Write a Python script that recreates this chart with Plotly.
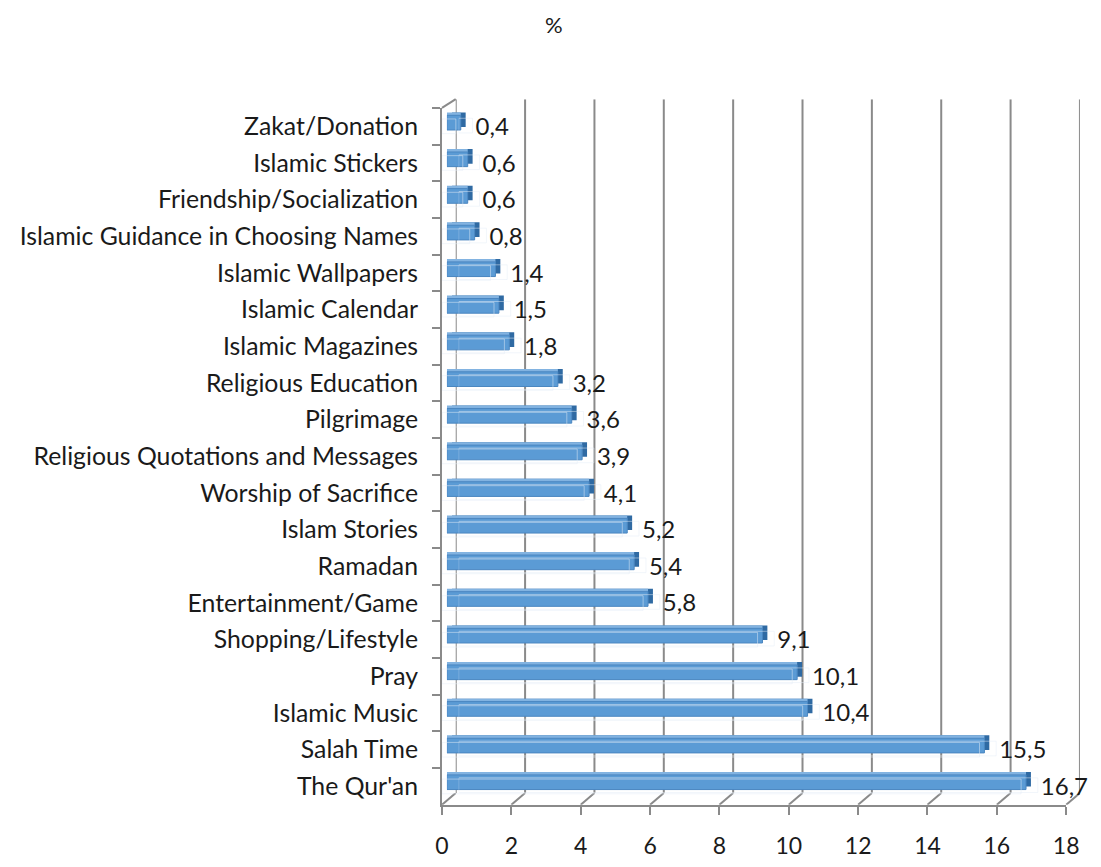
import plotly.graph_objects as go

# ---------------- data ----------------
categories = [
    "Zakat/Donation", "Islamic Stickers", "Friendship/Socialization",
    "Islamic Guidance in Choosing Names", "Islamic Wallpapers", "Islamic Calendar",
    "Islamic Magazines", "Religious Education", "Pilgrimage",
    "Religious Quotations and Messages", "Worship of Sacrifice", "Islam Stories",
    "Ramadan", "Entertainment/Game", "Shopping/Lifestyle", "Pray",
    "Islamic Music", "Salah Time", "The Qur'an",
]
values = [0.4, 0.6, 0.6, 0.8, 1.4, 1.5, 1.8, 3.2, 3.6, 3.9, 4.1, 5.2, 5.4, 5.8,
          9.1, 10.1, 10.4, 15.5, 16.7]
x_ticks = [0, 2, 4, 6, 8, 10, 12, 14, 16, 18]
title_text = "%"

# ---------------- geometry (pixels, page coordinates) ----------------
PAGE_W, PAGE_H = 1101, 867
OFF = 8                              # default body margin of the page
W, H = PAGE_W - 2 * OFF, PAGE_H - 2 * OFF
XMAX = 18
PX = 35.33                           # pixels per unit
DEPTH_X, DEPTH_Y = 14, 12
FRONT_X0, FRONT_TOP, FRONT_BOT = 443, 110, 821
BAR_X0, BAR_TOP, BAR_BOT = 448, 106.3, 816.7
FONT = "Lato, 'Open Sans', sans-serif"
FS = 24
TXT = "#1a1a1a"
GRID = "#8a8a8a"


def xaxis_px(x0, xmax):
    """domain (paper) for an axis whose 0 sits at page pixel x0, range [0, xmax]"""
    return [(x0 - OFF) / W, (x0 + xmax * PX - OFF) / W]


def yd(top, bot):
    return [1 - (bot - OFF) / H, 1 - (top - OFF) / H]


n = len(categories)
cat_range = [n - 0.5, -0.5]
fig = go.Figure()

# 1: back wall grid lines
gx, gy = [], []
for k in x_ticks:
    gx += [k, k, None]
    gy += [0, 1, None]
fig.add_trace(go.Scatter(x=gx, y=gy, mode="lines", line=dict(color=GRID, width=2),
                         xaxis="x", yaxis="y", hoverinfo="skip", showlegend=False,
                         cliponaxis=False))

# 2: floor slant lines
d = DEPTH_X / PX
fx, fy = [], []
for k in x_ticks:
    fx += [k, k + d, None]
    fy += [0, 1, None]
fig.add_trace(go.Scatter(x=fx, y=fy, mode="lines", line=dict(color=GRID, width=2),
                         xaxis="x2", yaxis="y2", hoverinfo="skip", showlegend=False,
                         cliponaxis=False))

# 3: dark side of bars
fig.add_trace(go.Bar(x=values, y=categories, orientation="h", marker_color="#2f6aa3",
                     marker_line_width=0, xaxis="x3", yaxis="y3", showlegend=False,
                     hoverinfo="skip"))
# 4: light top of bars
fig.add_trace(go.Bar(x=values, y=categories, orientation="h", marker_color="#82b3e1",
                     marker_line_width=0, xaxis="x4", yaxis="y4", showlegend=False,
                     hoverinfo="skip"))
# 5: front face of bars
fig.add_trace(go.Bar(x=values, y=categories, orientation="h", marker_color="#5b9bd5",
                     marker_line=dict(color="#4a86c0", width=1),
                     xaxis="x5", yaxis="y5", showlegend=False))
# 6: front axes (invisible trace to carry categories)
fig.add_trace(go.Bar(x=values, y=categories, orientation="h", marker_color="rgba(0,0,0,0)",
                     xaxis="x6", yaxis="y6", showlegend=False, hoverinfo="skip"))
# 7: value labels
fig.add_trace(go.Bar(x=values, y=categories, orientation="h", marker_color="rgba(0,0,0,0)",
                     texttemplate="%{x:.1f}", textposition="outside", constraintext="none",
                     cliponaxis=False, textfont=dict(family=FONT, size=FS, color=TXT),
                     xaxis="x7", yaxis="y7", showlegend=False, hoverinfo="skip"))

hidden = dict(showgrid=False, zeroline=False, showticklabels=False, showline=False,
              ticks="", fixedrange=True)

layout = dict(
    width=W, height=H,
    margin=dict(l=0, r=0, t=0, b=0),
    paper_bgcolor="white", plot_bgcolor="rgba(0,0,0,0)",
    separators=",.",
    bargap=0.6,
    font=dict(family=FONT, size=FS, color=TXT),
    # back wall
    xaxis=dict(domain=xaxis_px(FRONT_X0 + DEPTH_X, XMAX), range=[0, XMAX], anchor="y", **hidden),
    yaxis=dict(domain=yd(FRONT_TOP - DEPTH_Y + 3, FRONT_BOT - DEPTH_Y), range=[0, 1],
               anchor="x", **hidden),
    # floor
    xaxis2=dict(domain=xaxis_px(FRONT_X0, XMAX + d), range=[0, XMAX + d], anchor="y2", **hidden),
    yaxis2=dict(domain=yd(FRONT_BOT - DEPTH_Y, FRONT_BOT), range=[0, 1], anchor="x2", **hidden),
    # bar side
    xaxis3=dict(domain=xaxis_px(BAR_X0 + 5, 17.5), range=[0, 17.5], anchor="y3", **hidden),
    yaxis3=dict(domain=yd(BAR_TOP - 3, BAR_BOT - 3), range=cat_range, type="category",
                anchor="x3", **hidden),
    # bar top
    xaxis4=dict(domain=xaxis_px(BAR_X0, 17.5), range=[0, 17.5], anchor="y4", **hidden),
    yaxis4=dict(domain=yd(BAR_TOP - 3, BAR_BOT - 3), range=cat_range, type="category",
                anchor="x4", **hidden),
    # bar front
    xaxis5=dict(domain=xaxis_px(BAR_X0, 17.5), range=[0, 17.5], anchor="y5", **hidden),
    yaxis5=dict(domain=yd(BAR_TOP, BAR_BOT), range=cat_range, type="category",
                anchor="x5", **hidden),
    # front axes
    xaxis6=dict(domain=xaxis_px(FRONT_X0, XMAX), range=[0, XMAX], anchor="y6",
                tickmode="array", tickvals=x_ticks, ticktext=[str(t) for t in x_ticks],
                showgrid=False, zeroline=False, showline=True, linecolor=GRID, linewidth=2,
                ticks="outside", ticklen=8, tickcolor=GRID, tickwidth=2,
                ticklabelstandoff=12, tickfont=dict(family=FONT, size=23, color=TXT),
                fixedrange=True),
    yaxis6=dict(domain=yd(FRONT_TOP, FRONT_BOT), range=cat_range, type="category",
                anchor="x6", showgrid=False, zeroline=False, showline=True, linecolor=GRID,
                linewidth=2, ticks="outside", tickson="boundaries", ticklen=8,
                tickcolor=GRID, tickwidth=2, ticklabelstandoff=17,
                tickfont=dict(family=FONT, size=24.8, color=TXT), fixedrange=True),
    # value labels
    xaxis7=dict(domain=xaxis_px(BAR_X0 + 12, 17), range=[0, 17], anchor="y7", **hidden),
    yaxis7=dict(domain=yd(BAR_TOP + 3, BAR_BOT + 3), range=cat_range, type="category",
                anchor="x7", **hidden),
    shapes=[dict(type="line", xref="paper", yref="paper",
                 x0=(FRONT_X0 - OFF) / W, y0=1 - (FRONT_TOP - OFF) / H,
                 x1=(FRONT_X0 + DEPTH_X - OFF) / W, y1=1 - (FRONT_TOP - DEPTH_Y + 3 - OFF) / H,
                 line=dict(color=GRID, width=2))],
    annotations=[dict(text=title_text, x=(557 - OFF) / W, y=1 - (25 - OFF) / H,
                      xref="paper", yref="paper", xanchor="center", yanchor="middle",
                      showarrow=False, font=dict(family=FONT, size=22, color=TXT))],
)
fig.update_layout(**layout)
fig.write_html(
    "out.html",
    config={"displayModeBar": False},
    post_script="document.querySelectorAll('svg.main-svg').forEach(function(s){s.style.overflow='visible';});",
)
